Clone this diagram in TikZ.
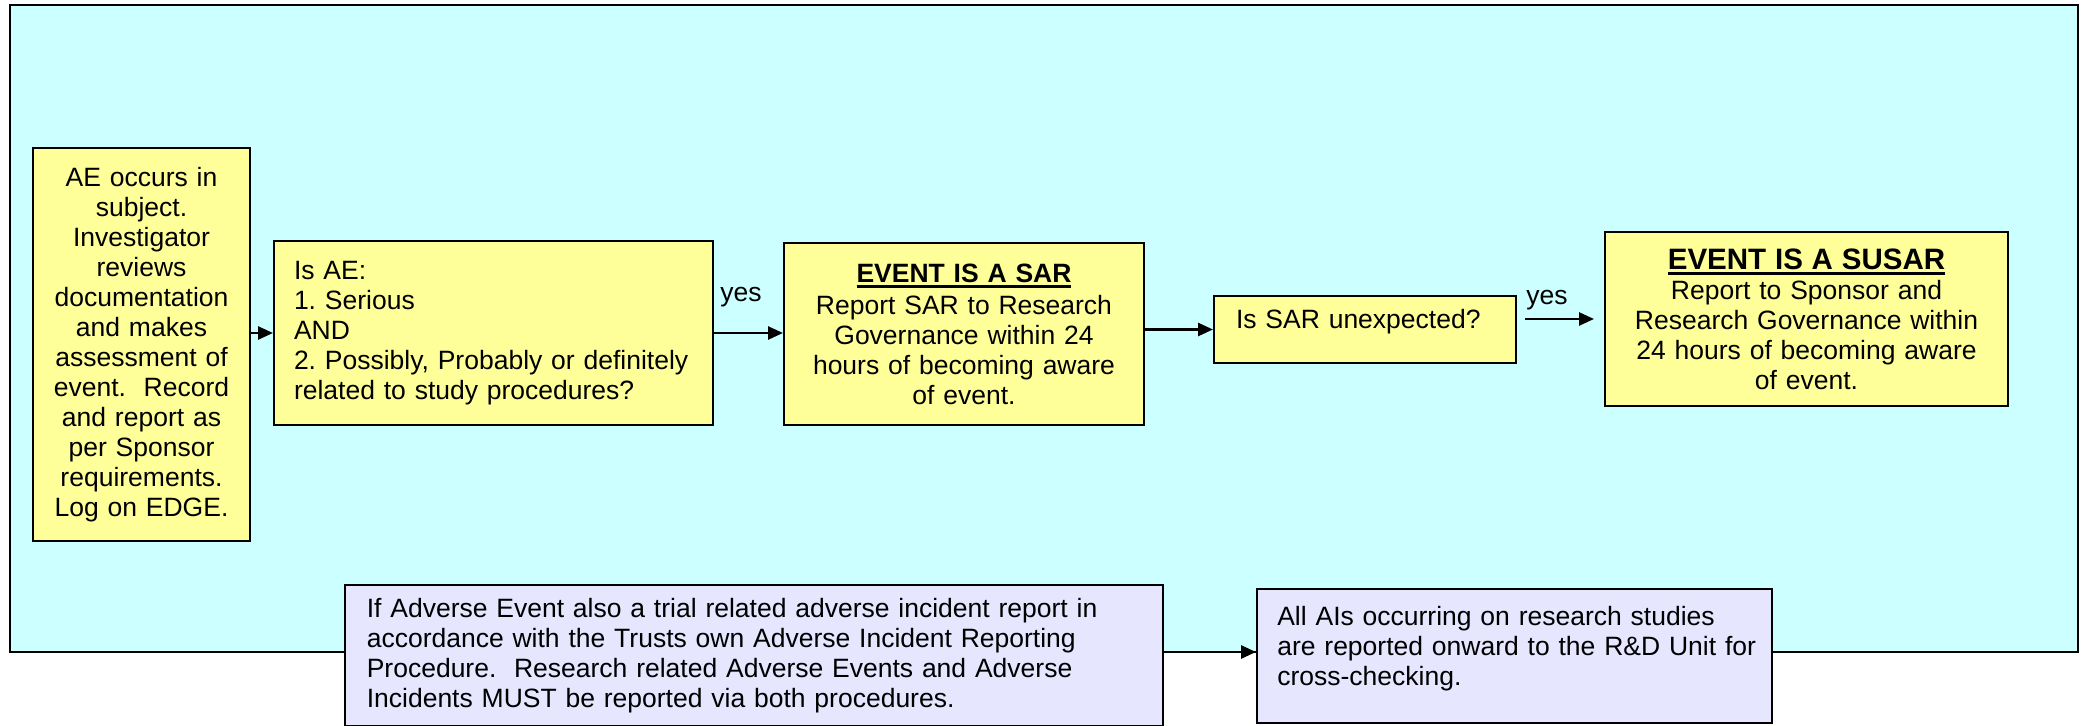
\documentclass[tikz,border=0pt]{standalone}
\usepackage{fontspec}
\setmainfont{Liberation Sans}
\usetikzlibrary{arrows.meta}

\definecolor{panelcyan}{HTML}{CCFFFF}
\definecolor{boxyellow}{HTML}{FFFF99}
\definecolor{boxlilac}{HTML}{E6E6FF}

\newlength{\ulwd}
\newcommand{\ultitle}[1]{\settowidth{\ulwd}{\textbf{#1}}\textbf{#1}\hspace{-\ulwd}\rule[-3pt]{\ulwd}{1.4pt}}
\frenchspacing

\begin{document}
\begin{tikzpicture}[x=0.5pt,y=0.5pt,yscale=-1,xscale=1,
  txt/.style={font=\fontsize{13.25}{15}\selectfont},
  ybox/.style={txt,draw,line width=1pt,fill=boxyellow,anchor=north west,inner ysep=0pt},
  lbox/.style={txt,draw,line width=0.8pt,fill=boxlilac,anchor=north west,inner ysep=0pt},
  arr/.style={line width=1.3pt,-{Triangle[length=7.5pt,width=6.5pt]}}]
\useasboundingbox (0,0) rectangle (2087,726);

%Shape: Rectangle
\draw [line width=0.75pt,fill=panelcyan] (10,5) rectangle (2078,652);
\coordinate (pbase) at (10,652);

%Shape: Rectangle
\node [ybox,minimum width=108.5pt,minimum height=196.5pt,inner xsep=4pt,text width=100.5pt,align=center] (occur) at (32,147) {AE occurs in\\subject.\\Investigator\\reviews\\documentation\\and makes\\assessment of\\event.~ Record\\and report as\\per Sponsor\\requirements.\\Log on EDGE.};
%Shape: Rectangle
\node [ybox,minimum width=219.5pt,minimum height=92pt,inner xsep=10pt,text width=199.5pt,align=left] (judge) at (273,240) {Is AE:\\1. Serious\\AND\\2. Possibly, Probably or definitely\\related to study procedures?};
%Shape: Rectangle
\node [ybox,minimum width=180pt,minimum height=91pt,inner xsep=4pt,text width=172pt,align=center] (sar) at (783,242) {\ultitle{EVENT IS A SAR}\\[1pt]Report SAR to Research\\Governance within 24\\hours of becoming aware\\of event.};
%Shape: Rectangle
\node [ybox,minimum width=151pt,minimum height=33.5pt,inner xsep=11pt,text width=129pt,align=left] (unexp) at (1213,295) {Is SAR unexpected?\rule[-11pt]{0pt}{0pt}};
%Shape: Rectangle
\node [ybox,minimum width=201.5pt,minimum height=87pt,inner xsep=4pt,text width=193.5pt,align=center] (susar) at (1604,231) {{\fontsize{14.75}{16}\selectfont\ultitle{EVENT IS A SUSAR}}\\Report to Sponsor and\\Research Governance within\\24 hours of becoming aware\\of event.};
%Shape: Rectangle
\node [lbox,minimum width=409pt,minimum height=70.5pt,inner xsep=11pt,text width=387pt,align=left] (aiproc) at (344,584) {If Adverse Event also a trial related adverse incident report in\\accordance with the Trusts own Adverse Incident Reporting\\Procedure.~ Research related Adverse Events and Adverse\\Incidents MUST be reported via both procedures.};
%Shape: Rectangle
\node [lbox,minimum width=257.5pt,minimum height=67pt,inner xsep=10.25pt,text width=237pt,align=left] (rdunit) at (1256,588) {All AIs occurring on research studies\\\mbox{are reported onward to the R\&D Unit for}\\cross-checking.\rule[-10pt]{0pt}{0pt}};

% Text Node
\node [txt,inner sep=0pt] (yesa) at (741,297) {yes};
% Text Node
\node [txt,inner sep=0pt] (yesb) at (1547,300) {yes};

%Straight Lines
\draw [arr] (occur.east |- judge.west) -- (judge.west);
%Straight Lines
\draw [arr] (judge.east) -- (judge.east -| sar.west);
%Straight Lines
\draw [arr] (sar.east |- unexp.west) -- (unexp.west);
%Straight Lines
\draw [arr] ([xshift=4pt]unexp.east |- susar.west) -- ([xshift=-5pt]susar.west);
%Straight Lines
\draw [arr] (pbase -| aiproc.east) -- (pbase -| rdunit.west);

\end{tikzpicture}
\end{document}
